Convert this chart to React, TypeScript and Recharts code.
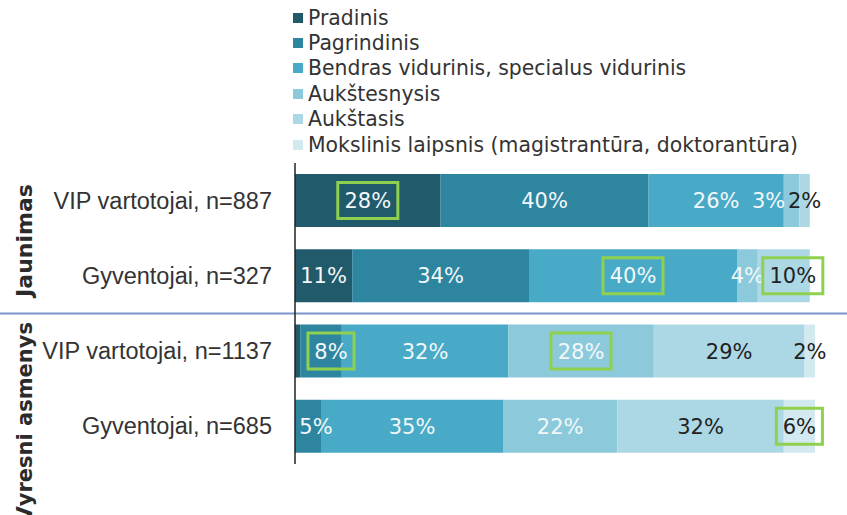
import React from 'react';
import { BarChart, Bar, XAxis, YAxis, LabelList, Legend, Customized } from 'recharts';

const categories = [
  'VIP vartotojai, n=887',
  'Gyventojai, n=327',
  'VIP vartotojai, n=1137',
  'Gyventojai, n=685',
];
const groupLabels = ['Jaunimas', 'Vyresni asmenys'];

const seriesKeys = ['pradinis', 'pagrindinis', 'bendras', 'aukstesnysis', 'aukstasis', 'mokslinis'];
const seriesNames = [
  'Pradinis',
  'Pagrindinis',
  'Bendras vidurinis, specialus vidurinis',
  'Aukštesnysis',
  'Aukštasis',
  'Mokslinis laipsnis (magistrantūra, doktorantūra)',
];

const pradinis = [28, 11, 1, 0];
const pagrindinis = [40, 34, 8, 5];
const bendras = [26, 40, 32, 35];
const aukstesnysis = [3, 4, 28, 22];
const aukstasis = [2, 10, 29, 32];
const mokslinis = [0, 0, 2, 6];

// [row index, series key] of labels framed in green
const highlighted: [number, string][] = [
  [0, 'pradinis'],
  [1, 'bendras'],
  [1, 'aukstasis'],
  [2, 'pagrindinis'],
  [2, 'aukstesnysis'],
  [3, 'mokslinis'],
];

const colors = ['#215a6b', '#2e85a0', '#48aac6', '#8ccadb', '#acd8e5', '#d3e9f0'];
const labelColors = ['#f2f8fa', '#f2f8fa', '#f2f8fa', '#f2f8fa', '#222222', '#222222'];
// label nudges (styling only)
const labelShift: Record<string, number> = {
  '0-aukstesnysis': -23,
  '1-aukstasis': 9,
  '2-pagrindinis': 10,
  '3-pagrindinis': 8,
};

const seriesValues = [pradinis, pagrindinis, bendras, aukstesnysis, aukstasis, mokslinis];
const data = categories.map((name, i) => {
  const row: Record<string, any> = { name };
  seriesKeys.forEach((k, s) => {
    row[k] = seriesValues[s][i];
  });
  return row;
});

const FONT = 'DejaVu Sans, Verdana, sans-serif';
const LABEL_SIZE = 21;
const MARGIN = { top: 163, right: 32, bottom: 51, left: 0 };

const makeLabel = (si: number) => (props: any) => {
  const { x, y, width, height, value } = props;
  if (value == null) return null;
  const [idxStr, valStr] = String(value).split('|');
  const index = Number(idxStr);
  const v = Number(valStr);
  if (!(v >= 2)) return null;
  const key = seriesKeys[si];
  const dx = labelShift[`${index}-${key}`] || 0;
  const cx = Number(x) + Number(width) / 2 + dx;
  const cy = Number(y) + Number(height) / 2;
  const text = `${v}%`;
  const hl = highlighted.some((h) => h[0] === index && h[1] === key);
  const tw = text.length * 0.62 * LABEL_SIZE + (text.length === 3 ? 1 : 0);
  return (
    <g>
      {hl && (
        <rect
          x={cx - tw / 2 - 10}
          y={cy - 18}
          width={tw + 20}
          height={36}
          fill="none"
          stroke="#8fd14f"
          strokeWidth={3}
        />
      )}
      <text
        x={cx}
        y={cy + 7.5}
        textAnchor="middle"
        fill={labelColors[si]}
        fontFamily={FONT}
        fontSize={LABEL_SIZE}
      >
        {text}
      </text>
    </g>
  );
};

const CategoryTick = (props: any) => {
  const { x, y, payload } = props;
  return (
    <text
      x={x}
      y={y + 8}
      textAnchor="end"
      fill="#333333"
      fontFamily="Liberation Sans, Arial, sans-serif"
      fontSize={23.5}
    >
      {payload.value}
    </text>
  );
};

const Decorations = () => (
  <g>
    <line x1={0} x2={847} y1={313.5} y2={313.5} stroke="#7a95cc" strokeWidth={2} />
    <text
      x={32}
      y={240.5}
      transform="rotate(-90 32 240.5)"
      textAnchor="middle"
      fontFamily={FONT}
      fontWeight="bold"
      fontSize={22}
      fill="#2b2b2b"
    >
      {groupLabels[0]}
    </text>
    <text
      x={32}
      y={322}
      transform="rotate(-90 32 322)"
      textAnchor="end"
      fontFamily={FONT}
      fontWeight="bold"
      fontSize={21}
      fill="#2b2b2b"
    >
      {groupLabels[1]}
    </text>
  </g>
);

const LegendContent = () => (
  <div style={{ fontFamily: FONT, fontSize: 20.4, color: '#333333' }}>
    {seriesNames.map((n, i) => (
      <div
        key={n}
        style={{ display: 'flex', alignItems: 'center', height: 25.4, whiteSpace: 'nowrap' }}
      >
        <span
          style={{
            display: 'inline-block',
            width: 10,
            height: 10,
            background: colors[i],
            marginRight: 5,
          }}
        />
        <span>{n}</span>
      </div>
    ))}
  </div>
);

export default function App() {
  return (
    <div style={{ position: 'absolute', left: 0, top: 0, width: 847, height: 515, background: '#fff' }}>
      <BarChart width={847} height={515} data={data} layout="vertical" margin={MARGIN} barSize={53}>
        <XAxis type="number" domain={[0, 100]} hide />
        <YAxis
          type="category"
          dataKey="name"
          width={295}
          axisLine={{ stroke: '#222222', strokeWidth: 1.5 }}
          tickLine={false}
          tickSize={6}
          tickMargin={17}
          tick={<CategoryTick />}
          interval={0}
        />
        <Legend
          layout="vertical"
          align="center"
          verticalAlign="middle"
          wrapperStyle={{ top: 5, left: 293, width: 554 }}
          content={<LegendContent />}
        />
        {seriesKeys.map((k, i) => (
          <Bar
            key={k}
            dataKey={k}
            name={seriesNames[i]}
            stackId="a"
            fill={colors[i]}
            isAnimationActive={false}
          />
        ))}
        <Customized component={Decorations} />
      </BarChart>
      <div style={{ position: 'absolute', left: 0, top: 0, pointerEvents: 'none' }}>
        <BarChart width={847} height={515} data={data} layout="vertical" margin={MARGIN} barSize={53}>
          <XAxis type="number" domain={[0, 100]} hide />
          <YAxis
            type="category"
            dataKey="name"
            width={295}
            axisLine={false}
            tickLine={false}
            tick={false}
            interval={0}
          />
          {seriesKeys.map((k, i) => (
            <Bar
              key={k}
              dataKey={k}
              stackId="a"
              fill="transparent"
              isAnimationActive={false}
            >
              <LabelList
                dataKey={(p: any) => `${categories.indexOf(p.name)}|${p[k]}`}
                content={makeLabel(i)}
              />
            </Bar>
          ))}
        </BarChart>
      </div>
    </div>
  );
}
